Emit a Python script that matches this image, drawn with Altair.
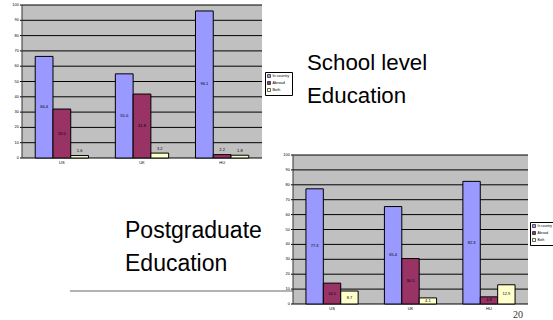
import altair as alt
import pandas as pd

COUNTRIES = ["US", "UK", "HU"]
SERIES = ["In country", "Abroad", "Both"]
COLORS = ["#9999ff", "#993366", "#ffffcc"]

SCHOOL_IN_COUNTRY = [66.4, 55.0, 96.1]
SCHOOL_ABROAD = [32.0, 41.8, 2.2]
SCHOOL_BOTH = [1.6, 3.2, 1.8]

POSTGRAD_IN_COUNTRY = [77.3, 65.4, 82.3]
POSTGRAD_ABROAD = [14.0, 30.5, 4.8]
POSTGRAD_BOTH = [8.7, 4.1, 12.9]

Y_TICKS = [0, 10, 20, 30, 40, 50, 60, 70, 80, 90, 100]

SCHOOL_TITLE = ["School level", "Education"]
POSTGRAD_TITLE = ["Postgraduate", "Education"]
PAGE_NUMBER = "20"

FONT = "Liberation Sans"
W, H = 553, 320


def frame(a, b, c):
    rows = []
    for i, country in enumerate(COUNTRIES):
        for s, vals in zip(SERIES, (a, b, c)):
            rows.append({"country": country, "series": s, "value": vals[i]})
    return pd.DataFrame(rows)


def panel(df, x0, x1, y0, y1, legend_x, legend_y, legend_font):
    # y0: pixel of value 0, y1: pixel of value 100
    xs = alt.Scale(domain=COUNTRIES, range=[x0, x1], paddingInner=0.335, paddingOuter=0.165)
    ys = alt.Scale(domain=[0, 100], range=[y0, y1], nice=False, zero=True)
    one = pd.DataFrame({"a": [0]})
    ticks = pd.DataFrame({"tick": Y_TICKS})
    cats = pd.DataFrame({"country": COUNTRIES})

    bg = alt.Chart(one).mark_rect(color="#c0c0c0").encode(
        x=alt.value(x0), x2=alt.value(x1), y=alt.value(y1), y2=alt.value(y0)
    )
    grid = alt.Chart(ticks).mark_rule(color="black", strokeWidth=1).encode(
        y=alt.Y("tick:Q", scale=ys, axis=None),
        x=alt.value(x0 - 2),
        x2=alt.value(x1),
    )
    y_labels = alt.Chart(ticks).mark_text(
        font=FONT, fontSize=4, color="black", align="right", baseline="middle"
    ).encode(
        y=alt.Y("tick:Q", scale=ys, axis=None),
        x=alt.value(x0 - 3),
        text=alt.Text("tick:Q", format="d"),
    )
    y_domain = alt.Chart(one).mark_rule(color="#333333", strokeWidth=1).encode(
        x=alt.value(x0), y=alt.value(y0), y2=alt.value(y1)
    )
    x_labels = alt.Chart(cats).mark_text(
        font=FONT, fontSize=4, color="black", align="center", baseline="middle"
    ).encode(
        x=alt.X("country:N", sort=COUNTRIES, scale=xs, axis=None),
        y=alt.value(y0 + 5),
        text="country:N",
    )
    bars = alt.Chart(df).mark_bar(stroke="black", strokeWidth=1).encode(
        x=alt.X("country:N", sort=COUNTRIES, scale=xs, axis=None),
        xOffset=alt.XOffset("series:N", sort=SERIES),
        y=alt.Y("value:Q", scale=ys, axis=None),
        color=alt.Color(
            "series:N",
            sort=SERIES,
            scale=alt.Scale(domain=SERIES, range=COLORS),
            legend=alt.Legend(
                title=None,
                orient="none",
                legendX=legend_x,
                legendY=legend_y,
                labelFont=FONT,
                labelFontSize=legend_font,
                labelColor="black",
                symbolType="square",
                symbolSize=9,
                symbolStrokeColor="black",
                symbolStrokeWidth=0.6,
                rowPadding=1,
                labelOffset=1.5,
                padding=2,
                strokeColor="black",
                fillColor="white",
                labelLimit=200,
            ),
        ),
    )
    labels = alt.Chart(df).transform_calculate(
        labelpos="datum.value < 4 ? datum.value + 3 : datum.value / 2"
    ).mark_text(font=FONT, fontSize=4, color="black", baseline="middle").encode(
        x=alt.X("country:N", sort=COUNTRIES, scale=xs, axis=None),
        xOffset=alt.XOffset("series:N", sort=SERIES),
        y=alt.Y("labelpos:Q", scale=ys, axis=None),
        text=alt.Text("value:Q", format=".1f"),
    )
    return alt.layer(bg, grid, y_domain, y_labels, x_labels, bars, labels)


school = panel(frame(SCHOOL_IN_COUNTRY, SCHOOL_ABROAD, SCHOOL_BOTH),
               22, 262, 158, 5, 265, 72, 3.8)
postgrad = panel(frame(POSTGRAD_IN_COUNTRY, POSTGRAD_ABROAD, POSTGRAD_BOTH),
                 293, 528, 304, 155, 530, 222, 3.3)

one = pd.DataFrame({"a": [0]})
divider = alt.Chart(one).mark_rule(color="#9a9a9a", strokeWidth=1.5).encode(
    x=alt.value(70), x2=alt.value(293), y=alt.value(291)
)
school_title = alt.Chart(one).mark_text(
    text=SCHOOL_TITLE, font=FONT, fontSize=22.3, align="left", baseline="alphabetic",
    lineHeight=33, color="black"
).encode(x=alt.value(307), y=alt.value(70))
postgrad_title = alt.Chart(one).mark_text(
    text=POSTGRAD_TITLE, font=FONT, fontSize=23, align="left", baseline="alphabetic",
    lineHeight=33, color="black"
).encode(x=alt.value(125), y=alt.value(238))
page = alt.Chart(one).mark_text(
    text=PAGE_NUMBER, font="Liberation Serif", fontSize=10, align="left",
    baseline="alphabetic", color="#333333"
).encode(x=alt.value(513), y=alt.value(318))

chart = alt.layer(divider, school_title, postgrad_title, page, school, postgrad).resolve_scale(
    x="independent", y="independent", color="independent", xOffset="independent"
).properties(
    width=W, height=H, padding=0, autosize=alt.AutoSizeParams(type="none")
).configure_view(stroke=None)

chart.save("out.html", embed_options={"renderer": "svg", "actions": False})
